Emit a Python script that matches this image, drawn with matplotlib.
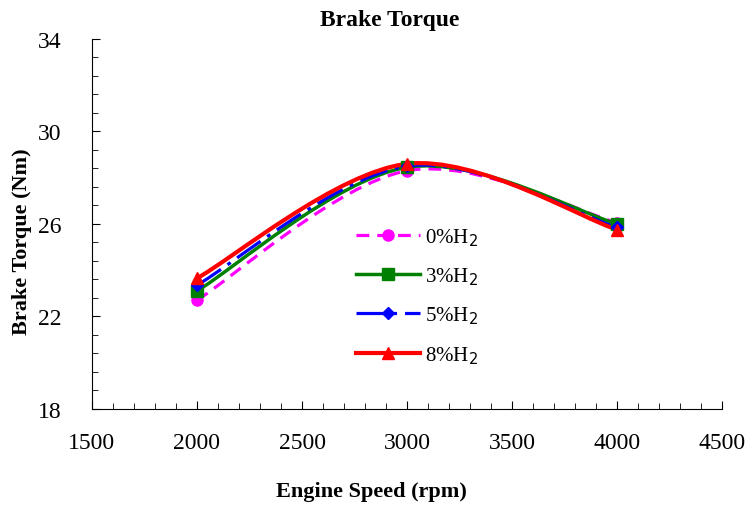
import numpy as np
import matplotlib
matplotlib.use('Agg')
import matplotlib.pyplot as plt
from matplotlib.path import Path
from matplotlib.patches import PathPatch
from matplotlib.lines import Line2D
from matplotlib.ticker import MultipleLocator

plt.rcParams['font.family'] = ['Liberation Serif', 'DejaVu Serif']

speed = [2000, 3000, 4000]
h2_0 = [22.7, 28.3, 26.05]
h2_3 = [23.1, 28.45, 26.0]
h2_5 = [23.35, 28.5, 25.85]
h2_8 = [23.65, 28.6, 25.75]
labels = ['0%H$_2$', '3%H$_2$', '5%H$_2$', '8%H$_2$']


def smooth_path(x, y):
    # excel-style smoothed line as cubic bezier segments
    p = np.column_stack([x, y]).astype(float)
    ext = np.vstack([p[0], p, p[-1]])
    verts = [p[0]]
    codes = [Path.MOVETO]
    for i in range(len(p) - 1):
        c1 = ext[i + 1] + (ext[i + 2] - ext[i]) / 6
        c2 = ext[i + 2] - (ext[i + 3] - ext[i + 1]) / 6
        verts += [c1, c2, p[i + 1]]
        codes += [Path.CURVE4] * 3
    return Path(verts, codes)


fig = plt.figure(figsize=(7.52, 5.06), dpi=100)
ax = fig.add_axes([0.1223, 0.190, 0.838, 0.731])

styles = [
    dict(color='#ff00ff', ls=(0, (4, 2.5)), lw=2.3, marker='o', ms=8),
    dict(color='#008000', ls='-', lw=2.5, marker='s', ms=8),
    dict(color='#0000ff', ls=(0, (9, 2.5, 1.2, 2.5)), lw=2.3, marker='D', ms=6),
    dict(color='#ff0000', ls='-', lw=3, marker='^', ms=9),
]
series = [h2_0, h2_3, h2_5, h2_8]

handles = []
for vals, st, lab in zip(series, styles, labels):
    patch = PathPatch(smooth_path(speed, vals), facecolor='none', edgecolor=st['color'],
                      lw=st['lw'], linestyle=st['ls'], capstyle='butt')
    ax.add_patch(patch)
    ax.plot(speed, vals, linestyle='none', marker=st['marker'], ms=st['ms'],
            color=st['color'], mec=st['color'])
    handles.append(Line2D([], [], color=st['color'], lw=st['lw'], linestyle=st['ls'],
                          marker=st['marker'], ms=st['ms'], label=lab))

ax.set_xlim(1500, 4500)
ax.set_ylim(18, 34)
ax.xaxis.set_major_locator(MultipleLocator(500))
ax.xaxis.set_minor_locator(MultipleLocator(100))
ax.set_yticks(np.arange(18, 34.1, 4))
ax.set_yticks(np.arange(18, 34.1, 0.8), minor=True)
ax.tick_params(which='both', direction='in', labelsize=17)
ax.tick_params(which='major', length=6, width=0.8)
ax.tick_params(which='minor', length=4, width=0.6)
ax.tick_params(axis='x', which='major', pad=17)
ax.tick_params(axis='y', which='major', pad=22)

for side in ['top', 'right']:
    ax.spines[side].set_visible(False)

ax.set_xlabel('Engine Speed (rpm)', fontsize=16, fontweight='bold', labelpad=20, x=0.444)
ax.set_ylabel('Brake Torque (Nm)', fontsize=16, fontweight='bold', labelpad=4, y=0.454)
ax.set_title('Brake Torque', fontsize=17, fontweight='bold', pad=10, x=0.473)

ax.legend(handles=handles, loc='upper left', bbox_to_anchor=(0.389, 0.545), frameon=False,
          fontsize=15, handlelength=3.1, labelspacing=0.85, handletextpad=0.2)

fig.savefig('out.png', dpi=100)
